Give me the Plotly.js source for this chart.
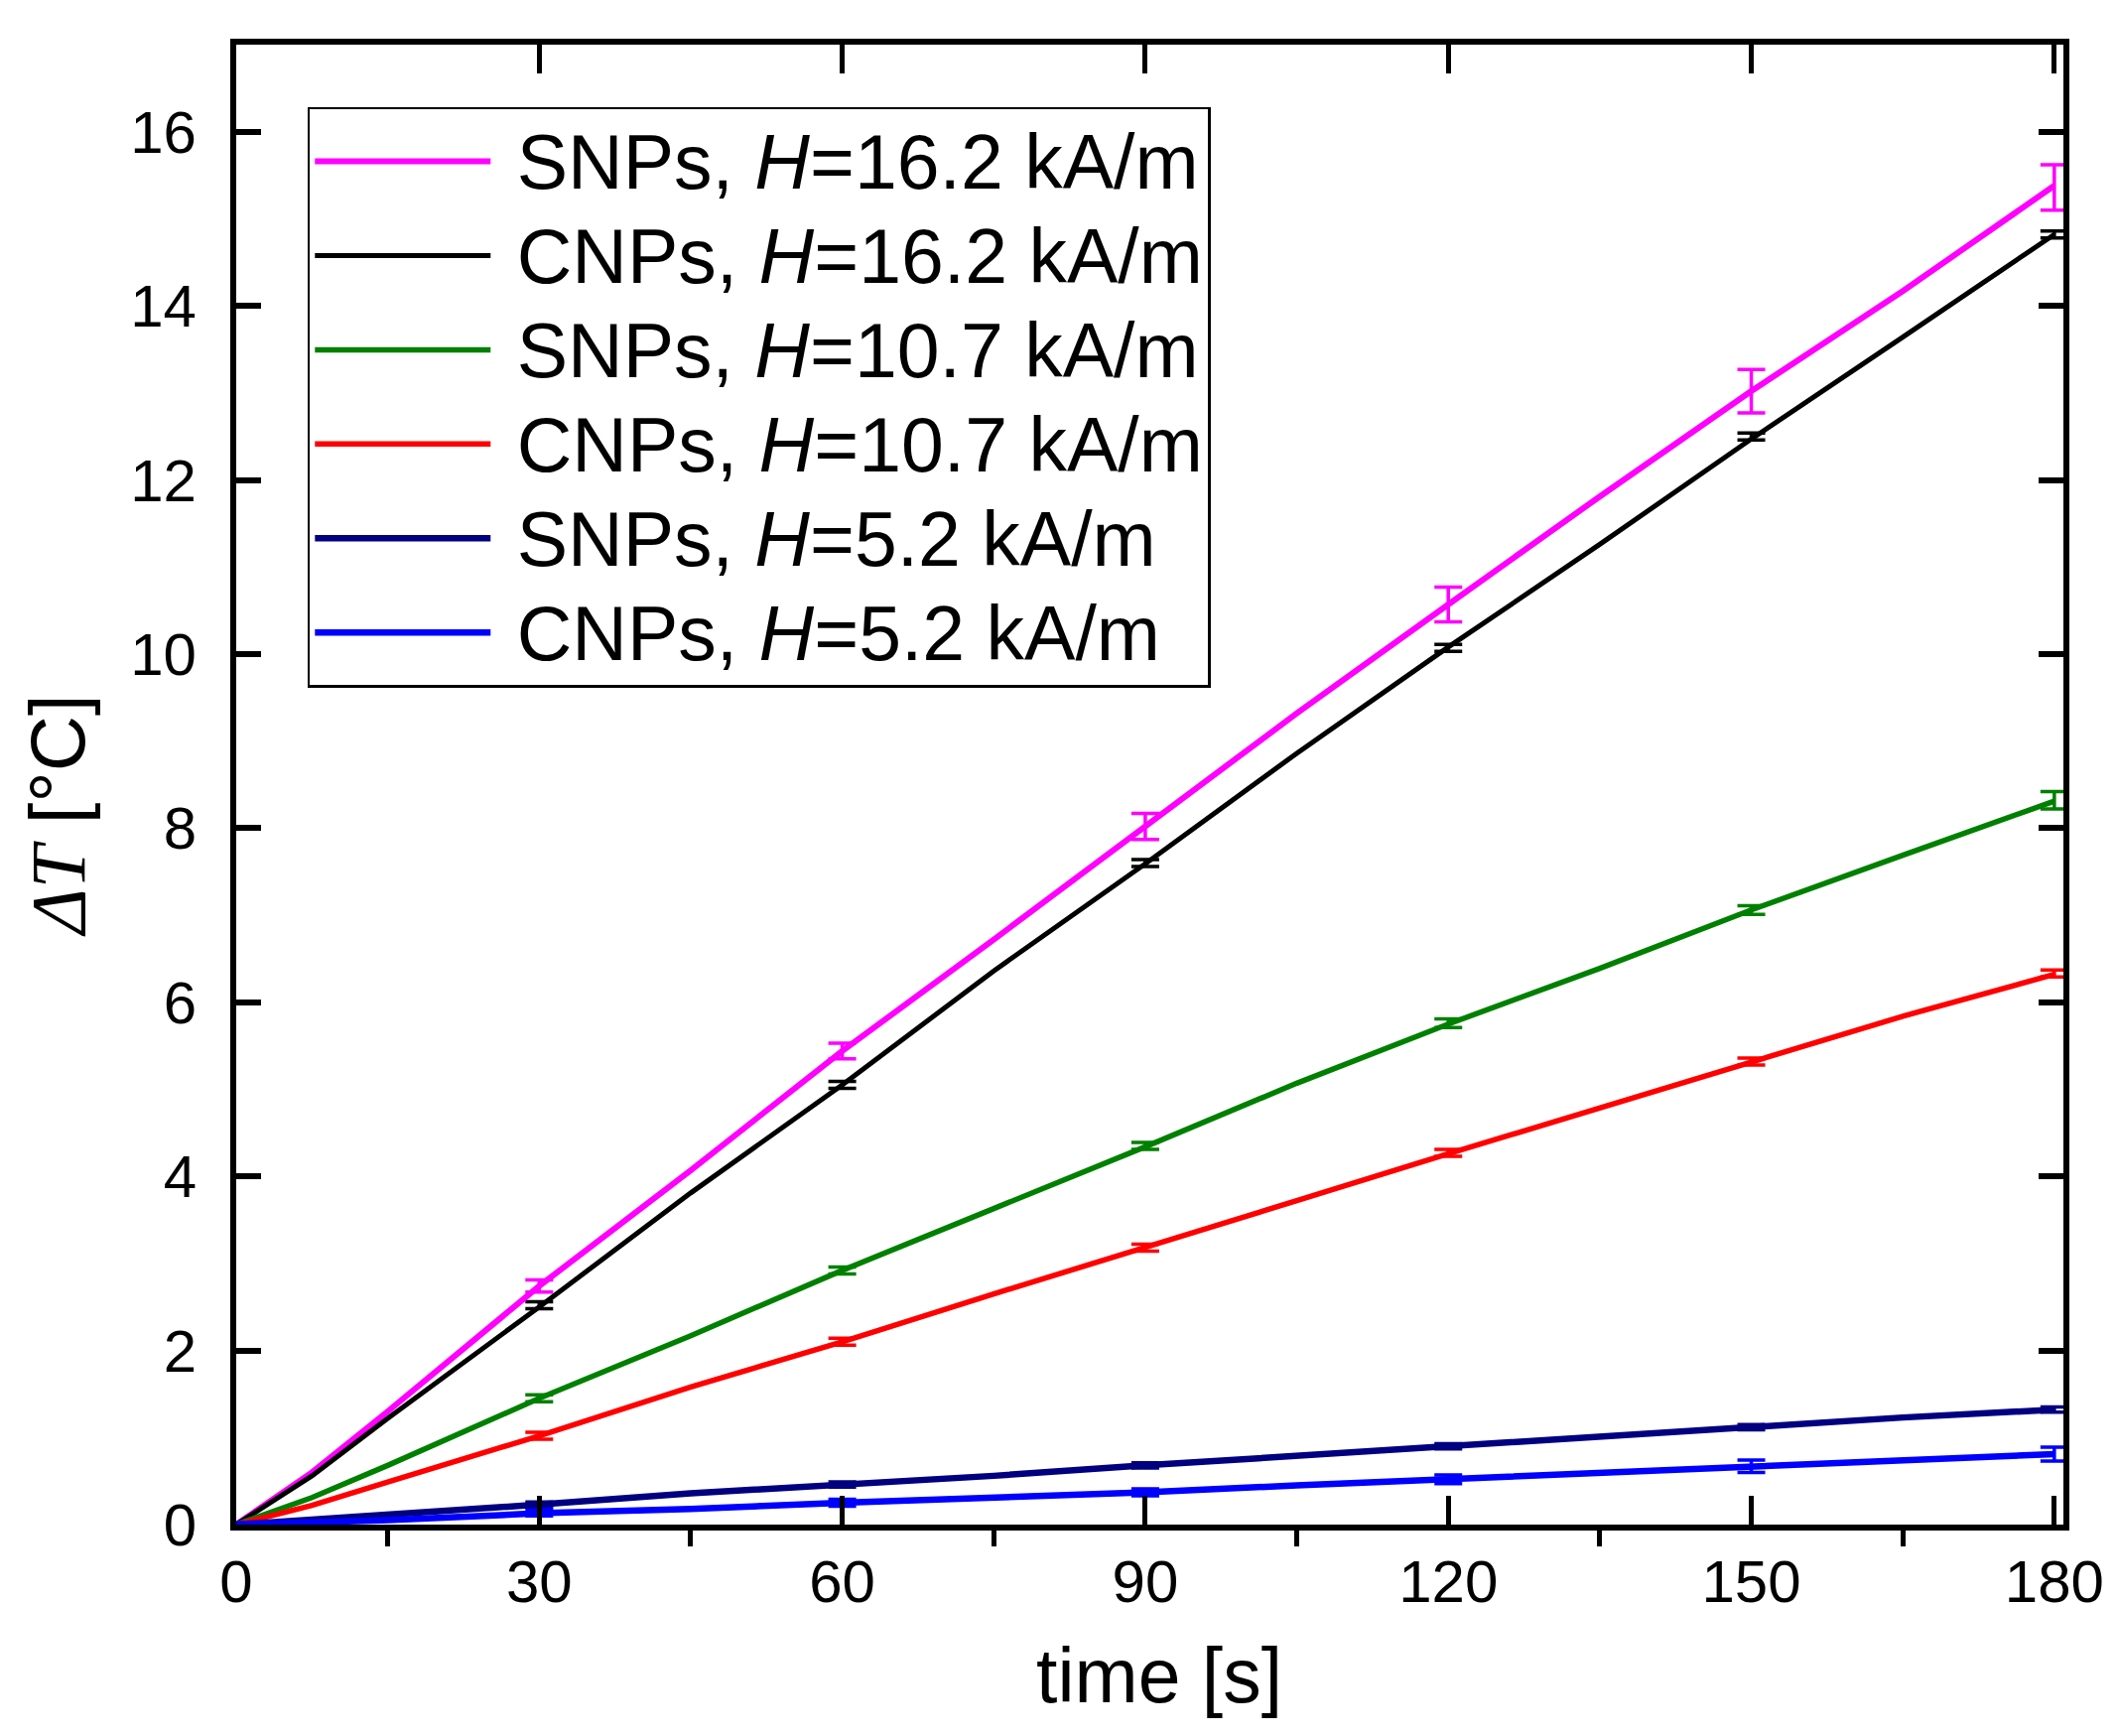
<!DOCTYPE html>
<html>
<head>
<meta charset="utf-8">
<script src="https://cdn.plot.ly/plotly-3.0.1.min.js"></script>
<style>
  html, body { margin: 0; padding: 0; background: #fff; }
  #chart { width: 2133px; height: 1749px; }
</style>
</head>
<body>
<div id="chart"></div>
<script>
const TIME = [0, 7.5, 15, 30, 45, 60, 75, 90, 105, 120, 135, 150, 165, 180];
const TIME_LOW = [0, 15, 30, 45, 60, 75, 90, 105, 120, 135, 150, 165, 180];

const snp162 = [0, 0.60, 1.30, 2.74, 4.07, 5.44, 6.72, 8.02, 9.32, 10.57, 11.81, 13.02, 14.17, 15.38];
const cnp162 = [0, 0.56, 1.22, 2.50, 3.81, 5.05, 6.36, 7.59, 8.86, 10.08, 11.26, 12.47, 13.64, 14.82];
const snp107 = [0, 0.31, 0.68, 1.45, 2.17, 2.92, 3.63, 4.34, 5.07, 5.75, 6.39, 7.06, 7.69, 8.31];
const cnp107 = [0, 0.22, 0.49, 1.02, 1.58, 2.10, 2.65, 3.18, 3.72, 4.26, 4.79, 5.31, 5.84, 6.32];
const snp52 = [0, 0.11, 0.23, 0.36, 0.46, 0.56, 0.68, 0.79, 0.90, 1.01, 1.12, 1.23, 1.32];
const cnp52 = [0, 0.05, 0.13, 0.18, 0.25, 0.31, 0.37, 0.45, 0.52, 0.59, 0.67, 0.74, 0.81];

// error bar points
const ERR_TIME = [30, 60, 90, 120, 150, 180];
const snp162Err = { y: [2.74, 5.44, 8.02, 10.57, 13.02, 15.36], e: [0.07, 0.09, 0.15, 0.20, 0.25, 0.26] };
const cnp162Err = { y: [2.52, 5.05, 7.60, 10.07, 12.50, 14.82], e: [0.04, 0.04, 0.04, 0.04, 0.04, 0.04] };
const snp107Err = { y: [1.45, 2.92, 4.35, 5.76, 7.06, 8.32], e: [0.04, 0.04, 0.04, 0.05, 0.05, 0.10] };
const cnp107Err = { y: [1.02, 2.10, 3.18, 4.27, 5.32, 6.33], e: [0.04, 0.04, 0.04, 0.04, 0.04, 0.04] };
const snp52Err = { y: [0.23, 0.46, 0.68, 0.90, 1.12, 1.32], e: [0.03, 0.03, 0.03, 0.03, 0.03, 0.03] };
const cnp52Err = { y: [0.14, 0.25, 0.37, 0.52, 0.67, 0.81], e: [0.04, 0.04, 0.04, 0.05, 0.07, 0.08] };

const X_TICKS = [0, 30, 60, 90, 120, 150, 180];
const X_MINOR = [15, 45, 75, 105, 135, 165];
const Y_TICKS = [0, 2, 4, 6, 8, 10, 12, 14, 16];

const LABELS = [
  "SNPs, <i>H</i>=16.2 kA/m",
  "CNPs, <i>H</i>=16.2 kA/m",
  "SNPs, <i>H</i>=10.7 kA/m",
  "CNPs, <i>H</i>=10.7 kA/m",
  "SNPs, <i>H</i>=5.2 kA/m",
  "CNPs, <i>H</i>=5.2 kA/m"
];

const X_TITLE = "time [s]";
const Y_TITLE = "<span style='font-family:\"Liberation Serif\", \"Times New Roman\", serif;font-style:italic'>ΔT</span> [°C]";

const series = [
  { name: LABELS[0], x: TIME, y: snp162, err: snp162Err, color: "#ff00ff", width: 6 },
  { name: LABELS[1], x: TIME, y: cnp162, err: cnp162Err, color: "#000000", width: 5 },
  { name: LABELS[2], x: TIME, y: snp107, err: snp107Err, color: "#008000", width: 5.5 },
  { name: LABELS[3], x: TIME, y: cnp107, err: cnp107Err, color: "#ff0000", width: 5.5 },
  { name: LABELS[4], x: TIME_LOW, y: snp52, err: snp52Err, color: "#000080", width: 6.5 },
  { name: LABELS[5], x: TIME_LOW, y: cnp52, err: cnp52Err, color: "#0000ff", width: 6.5 }
];

const data = [];
series.forEach((s) => {
  data.push({
    x: ERR_TIME,
    y: s.err.y,
    type: "scatter",
    mode: "markers",
    marker: { size: 1, opacity: 0, color: s.color },
    error_y: { type: "data", array: s.err.e, visible: true, color: s.color, thickness: 3.5, width: 14 },
    showlegend: false,
    hoverinfo: "skip"
  });
});
series.forEach((s) => {
  data.push({
    x: s.x,
    y: s.y,
    // leading nbsp gives the gap between legend line and text
    name: "<span style='font-size:77px'>\u00a0" + s.name + "</span>",
    type: "scatter",
    mode: "lines",
    line: { color: s.color, width: s.width },
    hoverinfo: "skip"
  });
});
// carrier for the top axis (major ticks only)
data.push({ x: [], y: [], xaxis: "x2", type: "scatter", mode: "lines", showlegend: false, hoverinfo: "skip" });

const FONT = "Arial, 'Liberation Sans', sans-serif";

const layout = {
  width: 2133,
  height: 1749,
  margin: { l: 238, r: 54, t: 45, b: 213 },
  paper_bgcolor: "#ffffff",
  plot_bgcolor: "#ffffff",
  font: { family: FONT, color: "#000000", size: 60 },
  xaxis: {
    range: [0, 180.9],
    tickvals: X_TICKS,
    ticktext: X_TICKS.map(String),
    ticks: "inside",
    ticklen: 29,
    tickwidth: 5,
    tickcolor: "#000",
    tickfont: { family: FONT, size: 60 },
    ticklabelstandoff: 0,
    minor: { tickvals: X_MINOR, ticks: "outside", ticklen: 16, tickwidth: 5, tickcolor: "#000", showgrid: false },
    showline: true,
    linewidth: 6,
    linecolor: "#000",
    mirror: true,
    showgrid: false,
    zeroline: false
  },
  xaxis2: {
    overlaying: "x",
    matches: "x",
    side: "top",
    range: [0, 180.9],
    tickvals: X_TICKS,
    ticks: "inside",
    ticklen: 29,
    tickwidth: 5,
    tickcolor: "#000",
    showticklabels: false,
    showline: false,
    showgrid: false,
    zeroline: false
  },
  yaxis: {
    range: [0, 17],
    tickvals: Y_TICKS,
    ticktext: Y_TICKS.map(String),
    ticks: "inside",
    ticklen: 25,
    tickwidth: 6,
    tickcolor: "#000",
    tickfont: { family: FONT, size: 60 },
    ticklabelstandoff: 22,
    showline: true,
    linewidth: 6,
    linecolor: "#000",
    mirror: "ticks",
    showgrid: false,
    zeroline: false
  },
  annotations: [
    {
      text: X_TITLE, xref: "paper", yref: "paper", x: 0.505, y: -0.102,
      xanchor: "center", yanchor: "middle", showarrow: false,
      font: { family: FONT, size: 77, color: "#000" }
    },
    {
      text: Y_TITLE, xref: "paper", yref: "paper", x: -0.0978, y: 0.4795,
      xanchor: "center", yanchor: "middle", showarrow: false, textangle: -90,
      font: { family: FONT, size: 78, color: "#000" }
    }
  ],
  legend: {
    x: 0.039,
    y: 0.958,
    xanchor: "left",
    yanchor: "top",
    bgcolor: "#ffffff",
    bordercolor: "#000000",
    borderwidth: 2.5,
    font: { family: FONT, size: 70.7, color: "#000" },
    itemwidth: 177,
    tracegroupgap: 0
  },
  showlegend: true
};

Plotly.newPlot("chart", data, layout, { displayModeBar: false, staticPlot: true });
</script>
</body>
</html>
